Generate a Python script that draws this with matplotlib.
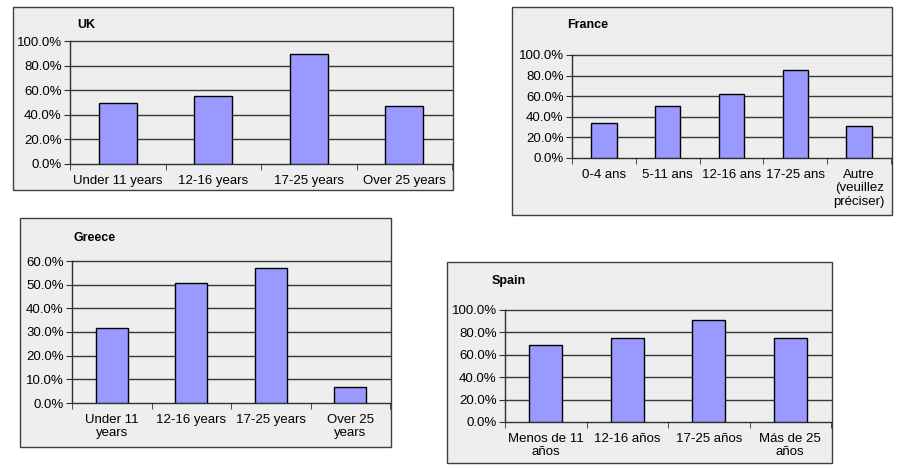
import matplotlib.pyplot as plt
from matplotlib.patches import Rectangle
from matplotlib.ticker import PercentFormatter, FixedLocator

plt.rcParams['font.family'] = ['Liberation Sans', 'DejaVu Sans']

W, H = 909, 474

uk_labels = ["Under 11 years", "12-16 years", "17-25 years", "Over 25 years"]
uk_values = [0.50, 0.554, 0.895, 0.473]

fr_labels = ["0-4 ans", "5-11 ans", "12-16 ans", "17-25 ans", "Autre\n(veuillez\npréciser)"]
fr_values = [0.335, 0.50, 0.619, 0.858, 0.31]

gr_labels = ["Under 11\nyears", "12-16 years", "17-25 years", "Over 25\nyears"]
gr_values = [0.318, 0.508, 0.572, 0.066]

es_labels = ["Menos de 11\naños", "12-16 años", "17-25 años", "Más de 25\naños"]
es_values = [0.69, 0.752, 0.907, 0.752]

# pixel boxes: frame (x0, y0, x1, y1), axes (x0, y0, x1, y1), title position, y max, y step
panels = [
    ("UK", uk_labels, uk_values, (13, 7, 453, 190), (70, 41, 452, 164), (77, 25), 1.0, 0.2),
    ("France", fr_labels, fr_values, (512, 7, 892, 215), (572, 55, 891, 158), (567, 25), 1.0, 0.2),
    ("Greece", gr_labels, gr_values, (20, 218, 391, 447), (72, 261, 390, 403), (73, 238), 0.6, 0.1),
    ("Spain", es_labels, es_values, (447, 262, 832, 463), (505, 310, 831, 422), (492, 281), 1.0, 0.2),
]

bg = '#eeeeee'
fig = plt.figure(figsize=(W / 100, H / 100), dpi=100)
fig.patch.set_facecolor('white')

for name, labels, values, frame, box, tpos, ymax, ystep in panels:
    fx0, fy0, fx1, fy1 = frame
    fig.patches.append(Rectangle((fx0 / W, 1 - fy1 / H), (fx1 - fx0) / W, (fy1 - fy0) / H,
                                 transform=fig.transFigure, facecolor=bg,
                                 edgecolor='#404040', linewidth=1.0, zorder=-5))
    ax0, ay0, ax1, ay1 = box
    ax = fig.add_axes([ax0 / W, 1 - ay1 / H, (ax1 - ax0) / W, (ay1 - ay0) / H])
    ax.set_facecolor('none')
    n = len(values)
    ax.bar(range(n), values, width=0.4, color='#9999ff', edgecolor='black', linewidth=1.0, zorder=3)
    ax.set_xlim(-0.5, n - 0.5)
    ax.set_ylim(0, ymax)
    yt = [i * ystep for i in range(round(ymax / ystep) + 1)]
    ax.set_yticks(yt)
    ax.yaxis.set_major_formatter(PercentFormatter(1.0, decimals=1))
    for y in yt[1:]:
        ax.axhline(y, color='#383838', linewidth=1.0, zorder=1, clip_on=False)
    ax.set_xticks(range(n))
    ax.set_xticklabels(labels, linespacing=1.15)
    ax.xaxis.set_minor_locator(FixedLocator([i - 0.5 for i in range(n + 1)]))
    ax.tick_params(axis='x', which='major', length=0, pad=8, labelsize=9.5)
    ax.tick_params(axis='x', which='minor', length=4, direction='out', color='#303030')
    ax.tick_params(axis='y', length=4, direction='out', labelsize=9.5, pad=2, color='#303030')
    for s in ('top', 'right'):
        ax.spines[s].set_visible(False)
    for s in ('left', 'bottom'):
        ax.spines[s].set_color('#303030')
        ax.spines[s].set_linewidth(1.0)
    fig.text(tpos[0] / W, 1 - tpos[1] / H, name, fontsize=9, fontweight='bold', va='center', ha='left')

fig.savefig('out.png', dpi=100, facecolor='white')
